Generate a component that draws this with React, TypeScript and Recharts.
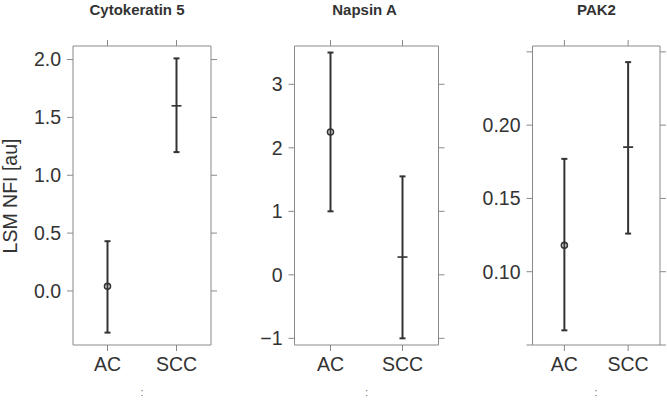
import React from 'react';
import { ComposedChart, Line, ErrorBar, XAxis, YAxis } from 'recharts';

// groups on the x axis
const groups = ['AC', 'SCC'];

// Cytokeratin 5: least-squares mean and 95% interval
const cytokeratinMean = [0.04, 1.6];
const cytokeratinLower = [-0.36, 1.2];
const cytokeratinUpper = [0.43, 2.01];
const cytokeratinTicks = [0, 0.5, 1, 1.5, 2];

// Napsin A
const napsinMean = [2.25, 0.28];
const napsinLower = [1.0, -1.0];
const napsinUpper = [3.5, 1.55];
const napsinTicks = [-1, 0, 1, 2, 3];

// PAK2
const pak2Mean = [0.118, 0.185];
const pak2Lower = [0.06, 0.126];
const pak2Upper = [0.177, 0.243];
const pak2Ticks = [0.05, 0.1, 0.15, 0.2, 0.25];

const FONT = '"Liberation Sans", Arial, sans-serif';
const FRAME = '#8a8a8a';
const INK = '#333333';
const H = 403;
const PLOT_TOP = 46;
const PLOT_BOTTOM = 345;

const buildRows = (mean: number[], lower: number[], upper: number[]) =>
  groups.map((g, i) => ({
    group: g,
    mean: mean[i],
    err: [mean[i] - lower[i], upper[i] - mean[i]],
  }));

const MeanMark = (props: any) => {
  const { cx, cy, payload } = props;
  if (cx == null || cy == null) return null;
  if (payload.group === 'AC') {
    return <circle cx={cx} cy={cy} r={3} fill="none" stroke={INK} strokeWidth={1.6} />;
  }
  return <line x1={cx - 5} x2={cx + 5} y1={cy} y2={cy} stroke={INK} strokeWidth={1.6} />;
};

interface PanelProps {
  left: number;
  width: number;
  plotLeft: number;
  plotRight: number;
  domain: [number, number];
  ticks: number[];
  format: (v: number) => string;
  rows: any[];
}

const Panel: React.FC<PanelProps> = ({ left, width, plotLeft, plotRight, domain, ticks, format, rows }) => {
  const axisCommon = { stroke: FRAME, tickLine: { stroke: FRAME }, tickSize: 6 };
  const pad = (plotRight - plotLeft) / 4;
  return (
    <div style={{ position: 'absolute', left, top: 0 }}>
      <ComposedChart width={width} height={H} data={rows} margin={{ top: 0, right: 0, bottom: 0, left: 0 }} style={{ fontFamily: FONT }}>
        <XAxis
          dataKey="group"
          height={H - PLOT_BOTTOM}
          padding={{ left: pad, right: pad }}
          tickMargin={6}
          tick={{ fontSize: 19.5, fill: INK }}
          {...axisCommon}
        />
        <XAxis
          xAxisId="top"
          dataKey="group"
          orientation="top"
          height={PLOT_TOP}
          padding={{ left: pad, right: pad }}
          tickFormatter={() => ''}
          {...axisCommon}
        />
        <YAxis
          type="number"
          domain={domain}
          ticks={ticks}
          allowDataOverflow
          width={plotLeft - left}
          tickMargin={6}
          tickFormatter={format}
          tick={{ fontSize: 19.5, fill: INK }}
          {...axisCommon}
        />
        <YAxis
          yAxisId="right"
          orientation="right"
          type="number"
          domain={domain}
          ticks={ticks}
          allowDataOverflow
          width={left + width - plotRight}
          tickFormatter={() => ''}
          {...axisCommon}
        />
        <Line xAxisId="top" yAxisId="right" dataKey="mean" stroke="none" dot={false} isAnimationActive={false} />
        <Line dataKey="mean" stroke="none" dot={<MeanMark />} activeDot={false} isAnimationActive={false}>
          <ErrorBar dataKey="err" direction="y" width={3} stroke={INK} strokeWidth={2} />
        </Line>
      </ComposedChart>
    </div>
  );
};

const minus = (v: number) => (v < 0 ? '\u2212' + Math.abs(v) : String(v));

export default function App() {
  return (
    <div style={{ position: 'absolute', left: 0, top: 0, width: 667, height: H, background: '#fff', overflow: 'hidden' }}>
      <Panel
        left={0}
        width={222}
        plotLeft={73}
        plotRight={211}
        domain={[-0.467, 2.117]}
        ticks={cytokeratinTicks}
        format={(v) => v.toFixed(1)}
        rows={buildRows(cytokeratinMean, cytokeratinLower, cytokeratinUpper)}
      />
      <Panel
        left={222}
        width={224}
        plotLeft={294.5}
        plotRight={438.5}
        domain={[-1.105, 3.603]}
        ticks={napsinTicks}
        format={minus}
        rows={buildRows(napsinMean, napsinLower, napsinUpper)}
      />
      <Panel
        left={446}
        width={221}
        plotLeft={532.5}
        plotRight={660}
        domain={[0.05, 0.254]}
        ticks={pak2Ticks}
        format={(v) => (v > 0.07 && v < 0.23 ? v.toFixed(2) : '')}
        rows={buildRows(pak2Mean, pak2Lower, pak2Upper)}
      />
      <svg width={667} height={H} style={{ position: 'absolute', left: 0, top: 0, pointerEvents: 'none', fontFamily: FONT }}>
        <text x={137} y={15} textAnchor="middle" fontSize={15} fontWeight="bold" fill={INK}>Cytokeratin 5</text>
        <text x={364.5} y={15} textAnchor="middle" fontSize={15} fontWeight="bold" fill={INK}>Napsin A</text>
        <text x={596.5} y={15} textAnchor="middle" fontSize={15} fontWeight="bold" fill={INK}>PAK2</text>
        <text x={17} y={196} transform="rotate(-90 17 196)" textAnchor="middle" fontSize={19.5} fill={INK}>LSM NFI [au]</text>
        <text x={142} y={396} textAnchor="middle" fontSize={11} fill="#666">:</text>
        <text x={366.5} y={396} textAnchor="middle" fontSize={11} fill="#666">:</text>
        <text x={596} y={396} textAnchor="middle" fontSize={11} fill="#666">:</text>
      </svg>
    </div>
  );
}
